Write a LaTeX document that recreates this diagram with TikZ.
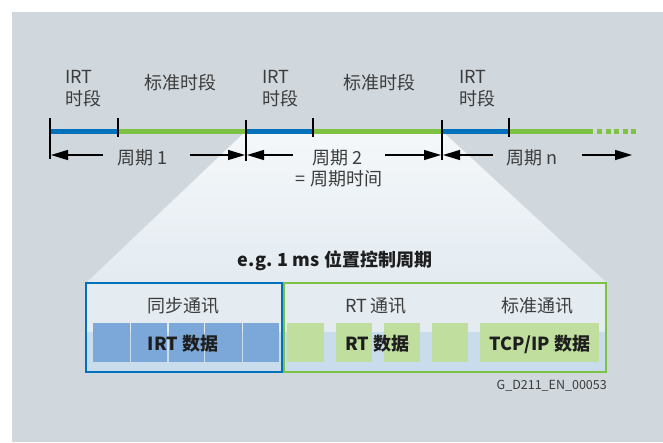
\documentclass[tikz,border=0pt]{standalone}
\usepackage{fontspec}
\setmainfont{Noto Sans CJK SC}
\usetikzlibrary{arrows.meta}
\definecolor{bgc}{RGB}{208,216,222}
\definecolor{lineblue}{RGB}{0,114,188}
\definecolor{linegreen}{RGB}{125,194,66}
\definecolor{trtop}{RGB}{245,248,250}
\definecolor{trbot}{RGB}{227,235,241}
\definecolor{boxtop}{RGB}{228,236,242}
\definecolor{band}{RGB}{200,220,236}
\definecolor{cellblue}{RGB}{123,168,216}
\definecolor{cellgreen}{RGB}{192,223,158}
\definecolor{txt}{RGB}{60,60,60}
\definecolor{txtb}{RGB}{30,30,30}
\tikzset{
  lbl/.style={font=\fontsize{18}{20}\selectfont, text=txt, inner sep=0pt, anchor=base},
  lblb/.style={lbl, font=\fontsize{18}{20}\selectfont\bfseries, text=txtb},
  seg/.style={line width=5pt},
  tickmark/.style={line width=2pt, black},
  dimarr/.style={line width=1.3pt, black, -{Triangle[length=17pt,width=10pt]}},
  cellb/.style={fill=cellblue},
  cellg/.style={fill=cellgreen},
  boxframe/.style={line width=2.5pt},
}
\begin{document}
\begin{tikzpicture}[x=1pt,y=-1pt]
\useasboundingbox (0,0) rectangle (663,442);
\fill[white] (0,0) rectangle (663,442);
\fill[bgc] (12,12) rectangle (663,442);

% funnel
\shade[top color=trtop, bottom color=trbot] (246,131) -- (442,131) -- (607,283) -- (86,283) -- cycle;

% box interior
\fill[boxtop] (86,283) rectangle (607,372);
\fill[band] (86,332) rectangle (607,372);

% blue cells
\fill[cellb] (93,323) rectangle (129.5,362);
\fill[cellb] (131,323) rectangle (167,362);
\fill[cellb] (168.5,323) rectangle (203.5,362);
\fill[cellb] (205,323) rectangle (241.5,362);
\fill[cellb] (243,323) rectangle (279,362);
% green cells
\fill[cellg] (287,323) rectangle (324,362);
\fill[cellg] (336,323) rectangle (372,362);
\fill[cellg] (384,323) rectangle (420,362);
\fill[cellg] (432,323) rectangle (468,362);
\fill[cellg] (480,323) rectangle (599,362);

% frames
\draw[boxframe, lineblue] (86,283) rectangle (282,372);
\draw[boxframe, linegreen] (284,283) rectangle (606,372);

% timeline
\coordinate (L0) at (50,131.5);
\coordinate (L1) at (118,131.5);
\coordinate (L2) at (246,131.5);
\coordinate (L3) at (313,131.5);
\coordinate (L4) at (442,131.5);
\coordinate (L5) at (509,131.5);
\coordinate (L6) at (593,131.5);
\coordinate (D0) at (597,131.5);
\coordinate (D1) at (637,131.5);
\draw[seg, lineblue] (L0) -- (L1);
\draw[seg, linegreen] (L1) -- (L2);
\draw[seg, lineblue] (L2) -- (L3);
\draw[seg, linegreen] (L3) -- (L4);
\draw[seg, lineblue] (L4) -- (L5);
\draw[seg, linegreen] (L5) -- (L6);
\draw[seg, linegreen, dash pattern=on 5pt off 3.5pt] (D0) -- (D1);

% ticks
\draw[tickmark] (50,118) -- (50,159);
\draw[tickmark] (246,120) -- (246,161);
\draw[tickmark] (442,120) -- (442,160);
\draw[tickmark] (118,118) -- (118,137);
\draw[tickmark] (313,118) -- (313,137);
\draw[tickmark] (509,118) -- (509,137);

% dimension arrows
\coordinate (T0) at (51,155);
\coordinate (T1r) at (245,155);
\coordinate (T1l) at (247,155);
\coordinate (T2r) at (441,155);
\coordinate (T2l) at (443,155);
\coordinate (T3) at (632,155);
\coordinate (S1a) at (103,155);
\coordinate (S1b) at (190,155);
\coordinate (S2a) at (293,155);
\coordinate (S2b) at (385,155);
\coordinate (S3a) at (493,155);
\coordinate (S3b) at (582,155);
\draw[dimarr] (S1a) -- (T0);
\draw[dimarr] (S1b) -- (T1r);
\draw[dimarr] (S2a) -- (T1l);
\draw[dimarr] (S2b) -- (T2r);
\draw[dimarr] (S3a) -- (T2l);
\draw[dimarr] (S3b) -- (T3);

% top labels
\node[lbl, anchor=base west] (irt1) at (65,83.5) {IRT};
\node[lbl, anchor=base west] (sd1) at (65,105.5) {时段};
\node[lbl] (std1) at (180,89) {标准时段};
\node[lbl, anchor=base west] (irt2) at (262,83.5) {IRT};
\node[lbl, anchor=base west] (sd2) at (262,105.5) {时段};
\node[lbl] (std2) at (379,89) {标准时段};
\node[lbl, anchor=base west] (irt3) at (459,83.5) {IRT};
\node[lbl, anchor=base west] (sd3) at (459,105.5) {时段};

% period labels
\node[lbl] (p1) at (142.5,164) {周期 1};
\node[lbl] (p2) at (337.5,164) {周期 2};
\node[lbl] (p2b) at (339,185.5) {= 周期时间};
\node[lbl] (pn) at (532,164) {周期 n};

% title
\node[lblb] (title) at (335,266) {e.g. 1 ms 位置控制周期};

% box labels
\node[lbl] (sync) at (183,312) {同步通讯};
\node[lbl] (rtc) at (376,312) {RT 通讯};
\node[lbl] (stdc) at (537.5,312) {标准通讯};
\node[lblb] (irtd) at (183,350.5) {IRT 数据};
\node[lblb] (rtd) at (377,350.5) {RT 数据};
\node[lblb] (tcpd) at (540,350.5) {TCP/IP 数据};

% figure id
\node[lbl, anchor=base east, font=\fontsize{12.5}{14}\selectfont] (figid) at (607,389.5) {G\_D211\_EN\_00053};
\end{tikzpicture}
\end{document}
